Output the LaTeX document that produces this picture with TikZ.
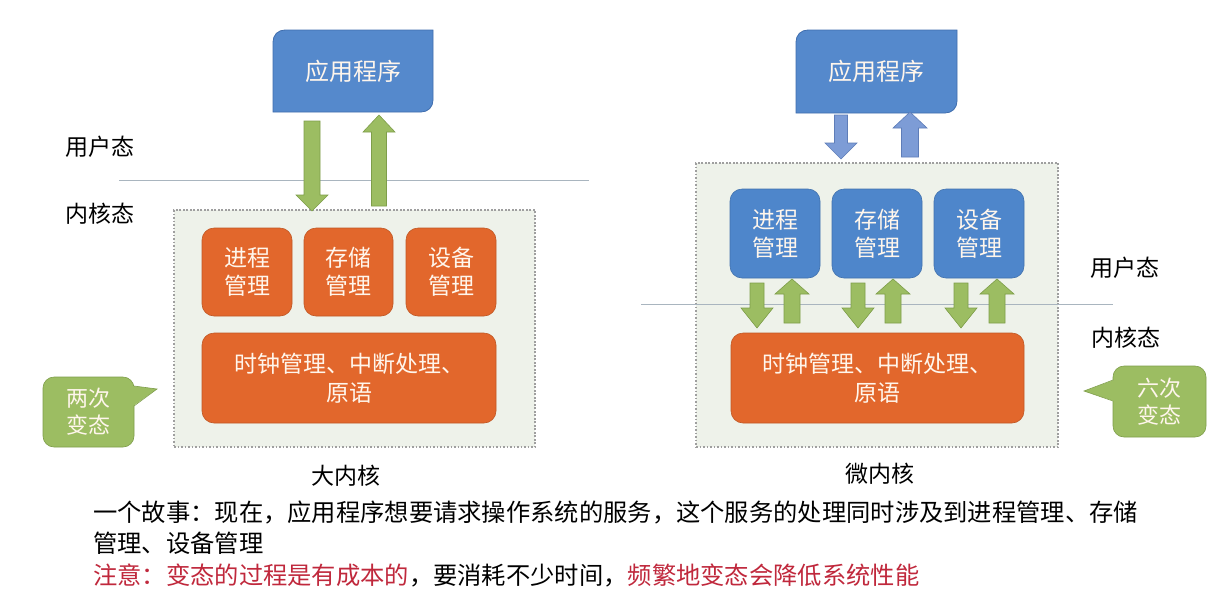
\documentclass[tikz,border=0pt]{standalone}
\usepackage{fontspec}
\setmainfont{Noto Sans CJK SC}
\definecolor{appblue}{HTML}{5589CC}
\definecolor{appedge}{HTML}{3F6DAE}
\definecolor{kblue}{HTML}{4E86CB}
\definecolor{korange}{HTML}{E2672C}
\definecolor{kgreen}{HTML}{9CBD62}
\definecolor{kgreenedge}{HTML}{7E9E4A}
\definecolor{lblue}{HTML}{7D9CD6}
\definecolor{lblueedge}{HTML}{5E7DB8}
\definecolor{contbg}{HTML}{EEF2EA}
\definecolor{linegray}{HTML}{A9B5BF}
\definecolor{boxtext}{HTML}{FFF6EC}
\definecolor{notered}{HTML}{C0283C}
\newcommand\arrdn[7]{\filldraw[#1] (#2-#5,#3) -- (#2+#5,#3) -- (#2+#5,#4-#7) -- (#2+#6,#4-#7) -- (#2,#4) -- (#2-#6,#4-#7) -- (#2-#5,#4-#7) -- cycle;}
\newcommand\arrupw[7]{\filldraw[#1] (#2,#3) -- (#2+#6,#3+#7) -- (#2+#5,#3+#7) -- (#2+#5,#4) -- (#2-#5,#4) -- (#2-#5,#3+#7) -- (#2-#6,#3+#7) -- cycle;}
\newcommand\appshape[4]{\filldraw[fill=appblue,draw=appedge,line width=0.8pt] (#1,#4) -- (#1,#2+12) .. controls (#1,#2+5) and (#1+5,#2) .. (#1+12,#2) -- (#3,#2) -- (#3,#4-12) .. controls (#3,#4-5) and (#3-5,#4) .. (#3-12,#4) -- cycle;}
\begin{document}
\begin{tikzpicture}[x=1pt,y=-1pt,
  container/.style={draw=gray!75, dash pattern=on 1.6pt off 1.9pt, line width=1.1pt, fill=contbg, inner sep=0pt},
  obox/.style={rounded corners=12pt, fill=korange, draw=korange!85!black, line width=0.6pt, text=boxtext, font=\fontsize{23}{28}\selectfont, align=center, inner sep=0pt},
  bbox/.style={obox, fill=kblue, draw=kblue!85!black},
  apptext/.style={text=boxtext, font=\fontsize{24}{28}\selectfont, inner sep=0pt, minimum width=160pt, minimum height=82pt},
  lbl/.style={font=\fontsize{23}{26}\selectfont, inner sep=0pt},
  story/.style={font=\fontsize{24.3}{28}\selectfont, inner sep=0pt, anchor=west},
  callbox/.style={rectangle, fill=kgreen, draw=kgreenedge, line width=0.6pt, rounded corners=11pt, text=boxtext, font=\fontsize{22}{27}\selectfont, align=center, inner sep=0pt},
  tailfill/.style={fill=kgreen},
  tailedge/.style={draw=kgreenedge, line width=0.6pt},
  garrow/.style={fill=kgreen, draw=kgreenedge, line width=0.6pt},
  barrow/.style={fill=lblue, draw=lblueedge, line width=0.6pt},
  statline/.style={draw=linegray, line width=1pt}
]
\useasboundingbox[fill=white] (0,0) rectangle (1219,590);

% ---------------- left: big kernel ----------------
\draw[statline] (119,180) coordinate (lineLa) -- (589,180) coordinate (lineLb);
\node[lbl] (userL) at (100,147) {用户态};
\node[lbl] (kernL) at (100,214) {内核态};

\node[container, minimum width=361pt, minimum height=237pt] (contL) at (354.5,328.5) {};
\appshape{273}{30}{433}{112}
\node[apptext] (appL) at (353,71) {应用程序};

\arrdn{garrow}{312}{121}{211}{8}{16}{16}
\arrupw{garrow}{379}{115}{206}{7.5}{16}{17}

\node[obox, minimum width=90pt, minimum height=88pt] (procL) at (247,272) {进程\\管理};
\node[obox, minimum width=89pt, minimum height=88pt] (memL) at (348.5,272) {存储\\管理};
\node[obox, minimum width=90pt, minimum height=88pt] (devL) at (451,272) {设备\\管理};
\node[obox, minimum width=294pt, minimum height=90pt, font=\fontsize{23}{29}\selectfont] (coreL) at (349,378) {时钟管理、中断处理、\\原语};

\node[callbox, minimum width=91pt, minimum height=70pt] (callL) at (88.5,412) {两次\\变态};
\coordinate (tipL) at (157,389);
\fill[tailfill] (133,386) -- (tipL) -- (133,406) -- cycle;
\draw[tailedge] (134,386) -- (tipL) -- (134,406);

\node[lbl] (bigk) at (346,476) {大内核};

% ---------------- right: micro kernel ----------------
\node[container, minimum width=362pt, minimum height=284pt] (contR) at (877,305) {};
\draw[statline] (641,304) coordinate (lineRa) -- (1113,304) coordinate (lineRb);
\node[lbl] (userR) at (1125,268) {用户态};
\node[lbl] (kernR) at (1126,338) {内核态};

\appshape{796}{30}{957}{113}
\node[apptext, minimum width=161pt, minimum height=83pt] (appR) at (876.5,71.5) {应用程序};

\arrdn{barrow}{841}{115}{159}{6.5}{16}{16}
\arrupw{barrow}{910}{112}{157}{8.5}{17}{16}

\node[bbox, minimum width=90pt, minimum height=89pt] (procR) at (775,233.5) {进程\\管理};
\node[bbox, minimum width=90pt, minimum height=89pt] (memR) at (877,233.5) {存储\\管理};
\node[bbox, minimum width=90pt, minimum height=89pt] (devR) at (979,233.5) {设备\\管理};

\arrdn{garrow}{757}{283}{328}{7}{16}{20}
\arrupw{garrow}{792}{279}{323}{8}{17}{15}
\arrdn{garrow}{858}{283}{328}{7}{16}{20}
\arrupw{garrow}{893}{279}{323}{8}{17}{15}
\arrdn{garrow}{961}{283}{328}{7}{16}{20}
\arrupw{garrow}{997}{279}{323}{8}{17}{15}

\node[obox, minimum width=293pt, minimum height=90pt, font=\fontsize{23}{29}\selectfont] (coreR) at (877.5,378) {时钟管理、中断处理、\\原语};

\node[callbox, minimum width=93pt, minimum height=71pt] (callR) at (1159.5,401.5) {六次\\变态};
\coordinate (tipR) at (1084,391);
\fill[tailfill] (1114,380) -- (tipR) -- (1114,401) -- cycle;
\draw[tailedge] (1113,380) -- (tipR) -- (1113,401);

\node[lbl] (microk) at (880,474) {微内核};

% ---------------- bottom text ----------------
\node[story] (story1) at (93,512) {一个故事：现在，应用程序想要请求操作系统的服务，这个服务的处理同时涉及到进程管理、存储};
\node[story] (story2) at (93,543) {管理、设备管理};
\node[story] (note) at (93,575) {{\color{notered}注意：变态的过程是有成本的}，要消耗不少时间，{\color{notered}频繁地变态会降低系统性能}};
\end{tikzpicture}
\end{document}
